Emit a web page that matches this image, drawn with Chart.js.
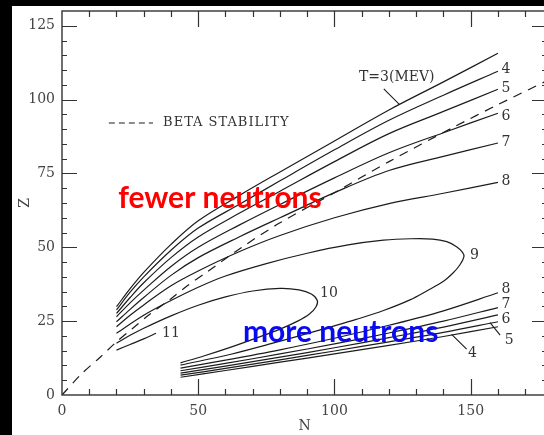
<!DOCTYPE html>
<html>
<head>
<meta charset="utf-8">
<script src="https://cdn.jsdelivr.net/npm/chart.js@4.4.1/dist/chart.umd.min.js"></script>
<style>
  html, body { margin: 0; padding: 0; background: #000; overflow: hidden; width: 544px; height: 435px; }
  #wrap { position: absolute; left: 12px; top: 6px; width: 540px; height: 429px; background: #fff; }
</style>
</head>
<body>
<div id="wrap"><canvas id="chartT"></canvas></div>
<script>
// N values where the upper contours are sampled
const nUpper = [20, 25, 30, 40, 50, 65, 80, 100, 120, 140, 160];
const zT3 = [29.9, 36, 41.5, 51, 59, 67.5, 75.5, 86, 96.5, 106, 115.7];
const zT4 = [28.8, 34.8, 40, 49, 56.5, 64.5, 72.5, 83, 93, 101.5, 109.6];
const zT5 = [27.6, 33, 38, 46.5, 53.5, 61.5, 69, 79, 88.5, 96, 103.5];
const zT6 = [26.5, 31.2, 35.5, 43.5, 50, 57.5, 64.5, 73.5, 82, 88.8, 95.4];
const zT7 = [24.8, 29, 33, 40.5, 46.5, 53.5, 60, 68.5, 76, 80.8, 85.3];
const zT8 = [23.1, 27, 30.5, 37, 42, 48.5, 54, 60, 64.8, 68.3, 72];

// closed-ish contours T=9 and T=10 (upper branch out, lower branch back)
const n9 = [20, 30, 40, 50, 60, 75, 90, 105, 118, 128, 136, 141.2, 144.8, 147, 147.5, 146, 143.5, 140, 134, 127.7, 118, 108, 98, 87, 76, 62, 43.5];
const z9 = [20.9, 27, 32, 36.5, 40.3, 44.5, 48, 50.8, 52.4, 52.9, 52.8, 51.9, 50.2, 48.3, 46.8, 44, 41.3, 38.5, 35.3, 32.2, 28.6, 25.6, 22.9, 20, 17.2, 13.8, 10.1];
const n10 = [20, 25, 30, 40, 50, 60, 70, 80, 87, 91.5, 93.7, 93.2, 90.8, 86.5, 80, 72, 62, 52, 43.5];
const z10 = [17.5, 20.2, 22.6, 26.8, 30.4, 33.2, 35.2, 36.1, 35.6, 34.2, 32, 29.8, 27.4, 25, 22.3, 19.5, 16.2, 13.2, 10.9];
const n11 = [20, 25, 30, 34.5];
const z11 = [15.2, 17.1, 19, 20.9];

// neutron-rich side
const nLower = [43.5, 60, 80, 100, 120, 140, 160];
const zL4 = [6.0, 8.3, 11.1, 13.9, 16.8, 19.8, 23.1];
const zL5 = [6.7, 9.0, 11.9, 14.9, 18.0, 21.2, 24.8];
const zL6 = [7.4, 9.8, 12.8, 16.0, 19.4, 23.0, 27.1];
const zL7 = [8.2, 10.7, 13.9, 17.3, 21.0, 25.0, 29.6];
const zL8 = [9.1, 11.8, 15.3, 19.2, 23.6, 28.5, 34.6];

// line of beta stability
const nBeta = [0, 7, 14, 20, 26, 32, 40, 46, 53, 66, 80, 100, 120, 144, 160, 178];
const zBeta = [0, 7, 12.8, 18, 22.6, 27.2, 32.6, 37, 41.5, 50, 58.3, 68.5, 79, 90.8, 98.3, 106.4];

const xTickValues = [0, 50, 100, 150];
const yTickValues = [0, 25, 50, 75, 100, 125];

// contour labels: text and anchor (N, Z)
const tagText = ['4', '5', '6', '7', '8', '8', '7', '6', '5', '4', '9', '10', '11'];
const tagN = [161.3, 161.3, 161.3, 161.3, 161.3, 161.3, 161.3, 161.3, 162.5, 149, 149.7, 94.7, 36.7];
const tagZ = [110.1, 103.7, 94.2, 85.4, 72.2, 35.8, 30.7, 25.7, 18.6, 14.1, 47.4, 34.5, 21];
// leader strokes [n0, z0, n1, z1]
const leaders = [
  [118.1, 103.6, 123.8, 98.4],
  [157.1, 24.5, 160.8, 20.3],
  [143.0, 20.5, 148.5, 15.5]
];

const serif = "'DejaVu Serif', serif";
const ink = '#1c1c1c';

function pts(ns, zs) {
  return ns.map((n, i) => ({ x: n, y: zs[i] }));
}

function contour(ns, zs) {
  return {
    data: pts(ns, zs),
    showLine: true,
    borderColor: ink,
    borderWidth: 1.2,
    pointRadius: 0,
    tension: 0.35,
    fill: false
  };
}

// no extra room for the outermost tick labels
function noPadding(s) {
  s.paddingTop = 0;
  s.paddingBottom = 0;
  s.paddingLeft = 0;
  s.paddingRight = 0;
}

// frame with inward tick marks on all four sides
const frameTicks = {
  id: 'frameTicks',
  afterDatasetsDraw(chart) {
    const { ctx, chartArea: a, scales: { x, y } } = chart;
    ctx.save();
    ctx.strokeStyle = '#333';
    ctx.lineWidth = 1.4;
    ctx.strokeRect(a.left, a.top, a.right - a.left, a.bottom - a.top);
    ctx.lineWidth = 1.2;
    ctx.beginPath();
    for (let v = 5; v < y.max; v += 5) {
      const py = Math.round(y.getPixelForValue(v)) + 0.5;
      const len = v % 25 === 0 ? 15 : 5;
      ctx.moveTo(a.left, py); ctx.lineTo(a.left + len, py);
      ctx.moveTo(a.right, py); ctx.lineTo(a.right - len, py);
    }
    for (let v = 10; v < x.max; v += 10) {
      const px = Math.round(x.getPixelForValue(v)) + 0.5;
      const len = v % 50 === 0 ? 16 : 6;
      ctx.moveTo(px, a.bottom); ctx.lineTo(px, a.bottom - len);
      ctx.moveTo(px, a.top); ctx.lineTo(px, a.top + len);
    }
    ctx.stroke();
    ctx.restore();
  }
};

// contour labels, legend and the two notes
const notes = {
  id: 'notes',
  afterDraw(chart) {
    const { ctx, scales: { x, y } } = chart;
    const px = v => x.getPixelForValue(v);
    const py = v => y.getPixelForValue(v);
    ctx.save();
    ctx.fillStyle = '#333';
    ctx.strokeStyle = ink;
    ctx.lineWidth = 1.1;
    ctx.textBaseline = 'middle';
    ctx.textAlign = 'left';
    ctx.font = '14px ' + serif;
    tagText.forEach((t, i) => ctx.fillText(t, px(tagN[i]), py(tagZ[i])));
    ctx.fillText('T=3(MEV)', px(109), py(107.4));

    ctx.beginPath();
    leaders.forEach(l => {
      ctx.moveTo(px(l[0]), py(l[1]));
      ctx.lineTo(px(l[2]), py(l[3]));
    });
    ctx.stroke();

    // legend entry for the dashed line
    ctx.setLineDash([6, 4]);
    ctx.beginPath();
    ctx.moveTo(px(17.2), py(92.1));
    ctx.lineTo(px(33.4), py(92.1));
    ctx.stroke();
    ctx.setLineDash([]);
    ctx.font = '13px ' + serif;
    ctx.letterSpacing = '1px';
    ctx.fillText('BETA STABILITY', px(37.1), py(92.1));
    ctx.letterSpacing = '0px';

    ctx.font = 'bold 30px Lato, sans-serif';
    ctx.fillStyle = '#ff0000';
    ctx.fillText('fewer neutrons', px(20.6), py(66.6));
    ctx.fillStyle = '#0a0af0';
    ctx.fillText('more neutrons', px(66.4), py(21.2));
    ctx.restore();
  }
};

const datasets = [
  contour(nUpper, zT3), contour(nUpper, zT4), contour(nUpper, zT5),
  contour(nUpper, zT6), contour(nUpper, zT7), contour(nUpper, zT8),
  contour(n9, z9), contour(n10, z10), contour(n11, z11),
  contour(nLower, zL4), contour(nLower, zL5), contour(nLower, zL6),
  contour(nLower, zL7), contour(nLower, zL8),
  Object.assign(contour(nBeta, zBeta), { borderDash: [9, 7], tension: 0.3 })
];

const tickFont = { family: serif, size: 14 };

new Chart(document.getElementById('chartT'), {
  type: 'scatter',
  data: { datasets },
  options: {
    animation: false,
    responsive: true,
    maintainAspectRatio: false,
    layout: { padding: { top: 5, right: 5, left: 0, bottom: 0 } },
    plugins: { legend: { display: false }, tooltip: { enabled: false } },
    scales: {
      x: {
        type: 'linear',
        min: 0,
        max: 178,
        afterBuildTicks: s => { s.ticks = xTickValues.map(v => ({ value: v })); },
        afterFit: s => { s.height = 40; noPadding(s); },
        grid: { display: false, drawTicks: false },
        border: { display: false },
        ticks: { font: tickFont, color: '#444', padding: 8, maxRotation: 0 },
        title: { display: true, text: 'N', font: tickFont, color: '#444', padding: { top: 0, bottom: 0 } }
      },
      y: {
        type: 'linear',
        min: 0,
        max: 130,
        afterBuildTicks: s => { s.ticks = yTickValues.map(v => ({ value: v })); },
        afterFit: s => { s.width = 50; noPadding(s); },
        grid: { display: false, drawTicks: false },
        border: { display: false },
        ticks: { font: tickFont, color: '#444', padding: 7 },
        title: { display: true, text: 'Z', font: tickFont, color: '#444', padding: { top: 5, bottom: 0 } }
      }
    }
  },
  plugins: [frameTicks, notes]
});
</script>
</body>
</html>
